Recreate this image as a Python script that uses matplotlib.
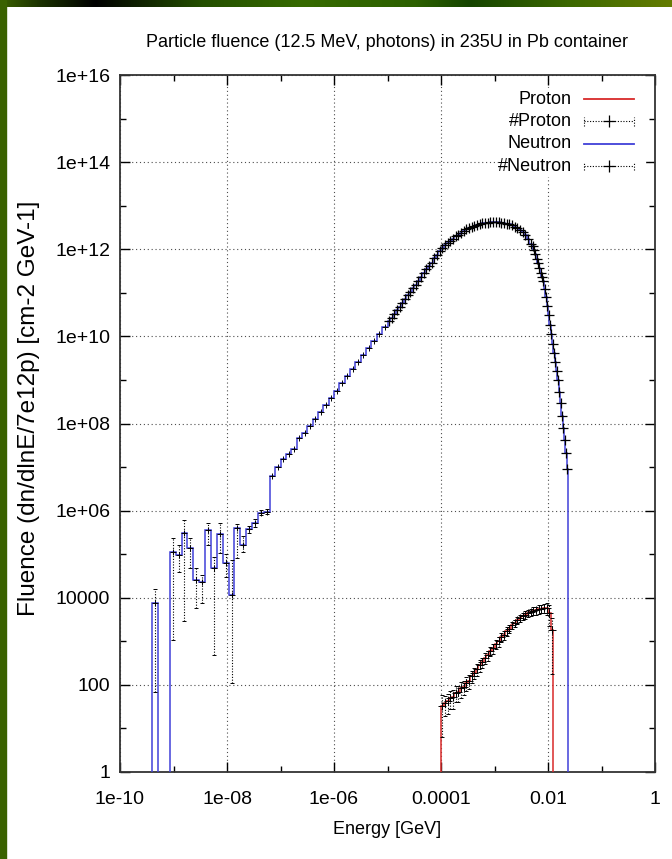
import numpy as np
import matplotlib
matplotlib.use('Agg')
import matplotlib.pyplot as plt
from matplotlib.colors import LinearSegmentedColormap
from matplotlib.ticker import FixedLocator, FixedFormatter, NullFormatter

plt.rcParams['font.family'] = ['Liberation Sans', 'DejaVu Sans']

# Axis ticks (gnuplot style labels)
x_major = [1e-10, 1e-8, 1e-6, 1e-4, 1e-2, 1]
x_labels = ['1e-10', '1e-08', '1e-06', '0.0001', '0.01', '1']
x_minor = [1e-9, 1e-7, 1e-5, 1e-3, 1e-1]
y_major = [1, 1e2, 1e4, 1e6, 1e8, 1e10, 1e12, 1e14, 1e16]
y_labels = ['1', '100', '10000', '1e+06', '1e+08', '1e+10', '1e+12', '1e+14', '1e+16']
y_minor = [1e1, 1e3, 1e5, 1e7, 1e9, 1e11, 1e13, 1e15]

# Neutrons, thermal/epithermal bins: log10(E/GeV) edges, fluence, error band
n_low_loge = [-9.62, -9.51, -9.40, -9.29, -9.18, -9.07, -8.96, -8.85, -8.74, -8.63, -8.52,
              -8.41, -8.30, -8.19, -8.08, -7.97, -7.86, -7.75, -7.64, -7.53, -7.42, -7.31, -7.20]
n_low_flux = [0, 0, 7.5e3, 0, 0, 1.1e5, 9.5e4, 3.0e5, 1.4e5, 2.5e4, 2.3e4,
              3.5e5, 4.8e4, 2.9e5, 6.2e4, 1.15e4, 4.0e5, 1.6e5, 3.7e5, 5.2e5, 9.0e5, 9.5e5]
n_low_lo = [0, 0, 70, 0, 0, 1.1e3, 4.0e4, 3.0e3, 4.8e4, 5.8e3, 7.5e3,
            1.6e5, 480, 1.05e5, 3.0e4, 110, 8.0e4, 1.1e5, 3.0e5, 4.3e5, 7.8e5, 8.3e5]
n_low_hi = [0, 0, 1.6e4, 0, 0, 2.3e5, 1.6e5, 6.0e5, 2.3e5, 4.8e4, 3.3e4,
            5.1e5, 8.5e4, 5.1e5, 1.0e5, 7.3e4, 5.0e5, 2.6e5, 4.5e5, 6.3e5, 1.05e6, 1.1e6]

# Neutrons, intermediate region (0.1 decade bins)
n_mid_loge = [-7.2, -7.1, -7.0, -6.9, -6.8, -6.7, -6.6, -6.5, -6.4, -6.3, -6.2, -6.1,
              -6.0, -5.9, -5.8, -5.7, -5.6, -5.5, -5.4, -5.3, -5.2, -5.1, -5.0]
n_mid_flux = [6.3e6, 1.0e7, 1.5e7, 1.95e7, 2.6e7, 4.6e7, 6.0e7, 8.7e7, 1.29e8, 1.86e8, 2.7e8,
              3.9e8, 5.7e8, 8.3e8, 1.2e9, 1.78e9, 2.57e9, 3.7e9, 5.5e9, 7.9e9, 1.15e10, 1.66e10]

# Neutrons, fast region (0.05 decade bins)
n_fast_loge = [-5.0, -4.95, -4.9, -4.85, -4.8, -4.75, -4.7, -4.65, -4.6, -4.55,
               -4.5, -4.45, -4.4, -4.35, -4.3, -4.25, -4.2, -4.15, -4.1, -4.05,
               -4.0, -3.95, -3.9, -3.85, -3.8, -3.75, -3.7, -3.65, -3.6, -3.55,
               -3.5, -3.45, -3.4, -3.35, -3.3, -3.25, -3.2, -3.15, -3.1, -3.05,
               -3.0, -2.95, -2.9, -2.85, -2.8, -2.75, -2.7, -2.65, -2.6, -2.55,
               -2.5, -2.45, -2.4, -2.35, -2.3]
n_fast_flux = [2.25e10, 2.69e10, 3.3e10, 3.98e10, 4.7e10, 5.75e10, 7.2e10, 8.71e10, 1.05e11, 1.31e11,
               1.55e11, 1.91e11, 2.25e11, 2.82e11, 3.45e11, 4.17e11, 4.95e11, 6.17e11, 7.5e11, 8.91e11,
               1.05e12, 1.22e12, 1.38e12, 1.52e12, 1.74e12, 1.98e12, 2.14e12, 2.3e12, 2.57e12, 2.85e12,
               3.0e12, 3.24e12, 3.5e12, 3.6e12, 3.8e12, 3.92e12, 3.98e12, 4.1e12, 4.12e12, 4.2e12,
               4.15e12, 4.12e12, 4.05e12, 4.0e12, 3.87e12, 3.72e12, 3.58e12, 3.3e12, 3.09e12, 2.78e12,
               2.45e12, 2.12e12, 1.74e12, 1.35e12]

# Neutrons, cut-off tail (0.025 decade bins)
n_tail_loge = [-2.3, -2.275, -2.25, -2.225, -2.2, -2.175, -2.15, -2.125, -2.1, -2.075,
               -2.05, -2.025, -2.0, -1.975, -1.95, -1.925, -1.9, -1.875, -1.85, -1.825,
               -1.8, -1.775, -1.75, -1.725, -1.7, -1.675, -1.65, -1.625]
n_tail_flux = [1.17e12, 9.5e11, 7.6e11, 6.0e11, 4.8e11, 3.7e11, 2.9e11, 2.3e11, 1.82e11, 1.23e11,
               7.9e10, 5.0e10, 3.1e10, 1.86e10, 1.12e10, 6.8e9, 4.2e9, 2.6e9, 1.58e9, 1.0e9,
               5.4e8, 2.9e8, 1.5e8, 7.9e7, 4.2e7, 2.1e7, 8.9e6]

# Protons
p_loge = [-4.0, -3.95, -3.9, -3.85, -3.8, -3.75, -3.7, -3.65, -3.6, -3.55,
          -3.5, -3.45, -3.4, -3.35, -3.3, -3.25, -3.2, -3.15, -3.1, -3.05,
          -3.0, -2.95, -2.9, -2.85, -2.8, -2.75, -2.7, -2.65, -2.6, -2.55,
          -2.5, -2.45, -2.4, -2.35, -2.3, -2.25, -2.2, -2.15, -2.1, -2.05,
          -2.0, -1.95, -1.9]
p_flux = [32, 38, 42, 50, 52, 66, 69, 83, 89, 112,
          126, 158, 190, 229, 282, 331, 417, 479, 603, 692,
          871, 1000, 1260, 1410, 1740, 1950, 2340, 2630, 3090, 3390,
          3800, 4070, 4470, 4680, 5010, 5130, 5500, 5620, 5890, 5750,
          4570, 1780]
p_relerr = [0.8, 0.5, 0.5, 0.45, 0.45, 0.4, 0.4, 0.4, 0.35, 0.35,
            0.35, 0.3, 0.3, 0.3, 0.3, 0.28, 0.28, 0.28, 0.25, 0.25,
            0.25, 0.25, 0.22, 0.22, 0.22, 0.2, 0.2, 0.2, 0.2, 0.2,
            0.2, 0.2, 0.2, 0.2, 0.2, 0.2, 0.22, 0.22, 0.25, 0.3,
            0.5, 0.9]

FLOOR = 1e-3  # empty bins drop below the frame
RED = '#d82a2a'
BLUE = '#4040d8'

fig = plt.figure(figsize=(6.72, 8.59), dpi=100)

# slide frame: gradient band on top, green strip on the left
band = LinearSegmentedColormap.from_list('band', [
    (0.0, '#3a6000'), (0.06, '#1a3000'), (0.14, '#000000'), (0.30, '#244f00'),
    (0.45, '#366a00'), (0.62, '#2c6000'), (0.70, '#154400'), (0.85, '#3c6800'),
    (1.0, '#647c00')])
bax = fig.add_axes([0, 1 - 7 / 859, 1, 7 / 859])
bax.imshow(np.linspace(0, 1, 256)[None, :], aspect='auto', cmap=band)
bax.axis('off')
fig.patches.append(plt.Rectangle((0, 0), 6 / 672, 1, transform=fig.transFigure,
                                 color='#3a6200', zorder=0))

ax = fig.add_axes([120 / 672, 1 - 772 / 859, 535 / 672, 697 / 859])
ax.set_xscale('log')
ax.set_yscale('log')
ax.set_xlim(1e-10, 1)
ax.set_ylim(1, 1e16)


def draw_steps(edges_log, flux, color):
    edges = 10.0 ** np.asarray(edges_log)
    vals = np.asarray(flux, float)
    vals = np.where(vals > 0, vals, FLOOR)
    ax.stairs(vals, edges, baseline=FLOOR, fill=False, color=color, lw=1.1, zorder=3)


def centers(edges_log):
    e = np.asarray(edges_log)
    return 10.0 ** ((e[:-1] + e[1:]) / 2)


def err_points(x, y, lo, hi, ms=5):
    eb = ax.errorbar(x, y, yerr=[y - lo, hi - y], fmt='+', color='k', ms=ms, mew=0.7,
                     elinewidth=0.8, capsize=1.5, capthick=0.7, zorder=4)
    eb[2][0].set_linestyle((0, (1, 1.5)))


# Proton histogram and its points
draw_steps(p_loge, p_flux, RED)
pf = np.array(p_flux, float)
pr = np.array(p_relerr)
err_points(centers(p_loge), pf, pf * (1 - pr), pf * (1 + pr), ms=6)

# Neutron histogram
n_loge = n_low_loge + n_mid_loge[1:] + n_fast_loge[1:] + n_tail_loge[1:]
n_flux = n_low_flux + n_mid_flux + n_fast_flux + n_tail_flux
draw_steps(n_loge, n_flux, BLUE)

# Neutron points
nl = np.array(n_low_flux, float)
keep = nl > 0
err_points(centers(n_low_loge)[keep], nl[keep],
           np.array(n_low_lo, float)[keep], np.array(n_low_hi, float)[keep])
ax.plot(centers(n_mid_loge), n_mid_flux, '+', color='k', ms=5, mew=0.7, zorder=4)
ax.plot(centers(n_fast_loge), n_fast_flux, '+', color='k', ms=7, mew=0.9, zorder=4)
ax.plot(centers(n_tail_loge), n_tail_flux, '+', color='k', ms=7, mew=0.9, zorder=4)

# ticks and grid
ax.xaxis.set_major_locator(FixedLocator(x_major))
ax.xaxis.set_major_formatter(FixedFormatter(x_labels))
ax.xaxis.set_minor_locator(FixedLocator(x_minor))
ax.xaxis.set_minor_formatter(NullFormatter())
ax.yaxis.set_major_locator(FixedLocator(y_major))
ax.yaxis.set_major_formatter(FixedFormatter(y_labels))
ax.yaxis.set_minor_locator(FixedLocator(y_minor))
ax.yaxis.set_minor_formatter(NullFormatter())
ax.tick_params(which='both', direction='in', top=True, right=True, width=1.0, labelsize=14)
ax.tick_params(which='major', length=7)
ax.tick_params(which='minor', length=4)
ax.tick_params(axis='x', pad=14)
ax.tick_params(axis='y', pad=7)
ax.grid(which='major', color='0.3', linestyle=(0, (1, 2.5)), lw=0.8)
for s in ax.spines.values():
    s.set_linewidth(1.3)
    s.set_color('#333333')

ax.set_title('Particle fluence (12.5 MeV, photons) in 235U in Pb container',
             fontsize=13, pad=20)
ax.set_xlabel('Energy [GeV]', fontsize=13, labelpad=9)
ax.set_ylabel('Fluence (dn/dlnE/7e12p) [cm-2 GeV-1]', fontsize=17.5)
ax.yaxis.set_label_coords(-0.149, 0.522)


# key in the top right corner
def fx(px):
    return (px - 120) / 535


def fy(py):
    return (772 - py) / 697


ax.add_patch(plt.Rectangle((fx(500), fy(176)), fx(645) - fx(500), fy(88) - fy(176),
                           transform=ax.transAxes, color='white', zorder=2.5))
key = [('Proton', 'line', RED), ('#Proton', 'err', 'k'),
       ('Neutron', 'line', BLUE), ('#Neutron', 'err', 'k')]
for i, (txt, kind, col) in enumerate(key):
    yy = fy(99 + 22.4 * i)
    ax.text(fx(572), yy, txt, transform=ax.transAxes, ha='right', va='center',
            fontsize=13, zorder=5)
    if kind == 'line':
        ax.plot([fx(584), fx(634)], [yy, yy], color=col, lw=1.3,
                transform=ax.transAxes, zorder=5)
    else:
        ax.plot([fx(584), fx(634)], [yy, yy], color='k', lw=0.8, ls=(0, (1, 1.5)),
                transform=ax.transAxes, zorder=5)
        for xe in (584, 634):
            ax.plot([fx(xe), fx(xe)], [yy - 0.006, yy + 0.006], color='k', lw=0.8,
                    ls=(0, (1, 1.5)), transform=ax.transAxes, zorder=5)
        ax.plot([fx(609)], [yy], '+', color='k', ms=8, mew=0.9,
                transform=ax.transAxes, zorder=5)

fig.savefig('out.png', dpi=100)
